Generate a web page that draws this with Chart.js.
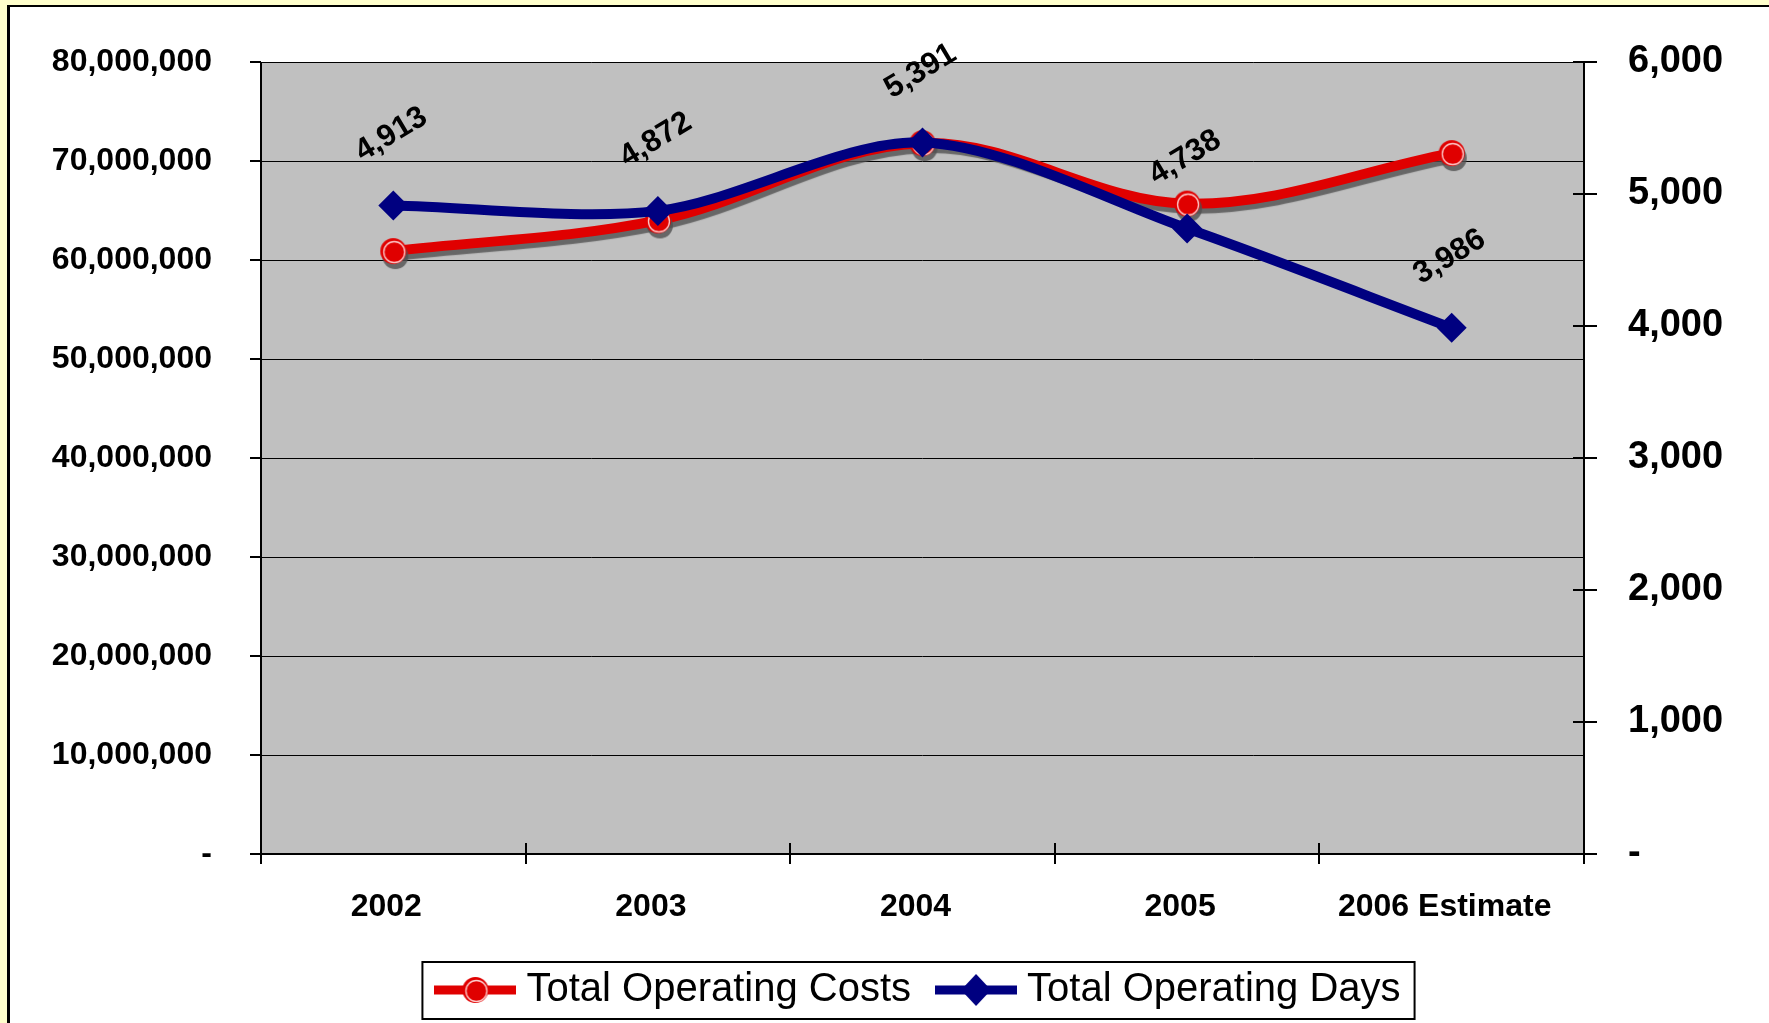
<!DOCTYPE html>
<html>
<head>
<meta charset="utf-8">
<script src="https://cdn.jsdelivr.net/npm/chart.js@4.4.1/dist/chart.umd.min.js"></script>
<style>
    html, body { margin: 0; padding: 0; background: #FFFFCC; overflow: hidden; }
    #frame {
        position: absolute; left: 7px; top: 5px; width: 1800px; height: 1100px;
        background: #fff; border-left: 3px solid #000; border-top: 2px solid #000;
    }
    #chart { position: absolute; left: 0; top: 0; }
</style>
</head>
<body>
<div id="frame"></div>
<canvas id="chart" width="1769" height="1023"></canvas>
<script>
// Operating costs vs operating days

const years = ['2002', '2003', '2004', '2005', '2006 Estimate'];
const operatingCosts = [60900000, 64000000, 71800000, 65700000, 70800000];
const operatingDays = [4913, 4872, 5391, 4738, 3986];

const costAxisMax = 80000000;
const costAxisStep = 10000000;
const daysAxisMax = 6000;
const daysAxisStep = 1000;

const FONT = '"Liberation Sans", Arial, sans-serif';
const RED = '#E00000';
const NAVY = '#000080';

function fmt(v) {
    return v === 0 ? '-' : Number(v).toLocaleString('en-US');
}

// marker pictures (with or without the line through them, for legend)
function makeMarker(kind, withLine) {
    const w = withLine ? 82 : 36;
    const h = 40;
    const c = document.createElement('canvas');
    c.width = w; c.height = h;
    const g = c.getContext('2d');
    const cx = w / 2, cy = h / 2;
    const color = kind === 'circle' ? RED : NAVY;
    if (withLine) {
        g.fillStyle = color;
        g.fillRect(0, cy - 4.5, w, 9);
    }
    g.fillStyle = color;
    if (kind === 'circle') {
        g.beginPath();
        g.arc(cx, cy, 13, 0, Math.PI * 2);
        g.fill();
        g.strokeStyle = 'rgba(255, 215, 215, 0.95)';
        g.lineWidth = 1.3;
        g.beginPath();
        g.arc(cx + 1, cy + 1, 10.5, 0, Math.PI * 2);
        g.stroke();
    } else {
        g.beginPath();
        g.moveTo(cx, cy - 16);
        g.lineTo(cx + 15, cy);
        g.lineTo(cx, cy + 16);
        g.lineTo(cx - 15, cy);
        g.closePath();
        g.fill();
    }
    return c;
}

const redPoint = makeMarker('circle', false);
const legendImages = [makeMarker('circle', true), makeMarker('diamond', true)];

const plotBackground = {
    id: 'plotBackground',
    beforeDraw(chart) {
        const { ctx, chartArea: a } = chart;
        ctx.save();
        ctx.fillStyle = '#C0C0C0';
        ctx.fillRect(a.left, a.top, a.right - a.left, a.bottom - a.top);
        ctx.restore();
    }
};

const redShadow = {
    id: 'redShadow',
    beforeDatasetDraw(chart, args) {
        if (args.index !== 0) return;
        const ctx = chart.ctx;
        ctx.save();
        ctx.shadowColor = 'rgba(80, 80, 80, 0.8)';
        ctx.shadowOffsetX = 2;
        ctx.shadowOffsetY = 5;
        ctx.shadowBlur = 1;
    },
    afterDatasetDraw(chart, args) {
        if (args.index === 0) chart.ctx.restore();
    }
};

const dayLabels = {
    id: 'dayLabels',
    afterDatasetsDraw(chart) {
        const ctx = chart.ctx;
        const meta = chart.getDatasetMeta(1);
        ctx.save();
        ctx.font = 'bold 31px ' + FONT;
        ctx.fillStyle = '#000';
        ctx.textAlign = 'center';
        ctx.textBaseline = 'middle';
        meta.data.forEach((pt, i) => {
            ctx.save();
            ctx.translate(pt.x - 2, pt.y - 71);
            ctx.rotate(-31 * Math.PI / 180);
            ctx.fillText(fmt(operatingDays[i]), 0, 0);
            ctx.restore();
        });
        ctx.restore();
    }
};

const axisFrame = {
    id: 'axisFrame',
    afterDraw(chart) {
        const { ctx, chartArea: a, scales } = chart;
        ctx.save();
        ctx.strokeStyle = '#000';
        ctx.lineWidth = 2;
        ctx.beginPath();
        // axis lines
        ctx.moveTo(a.left, a.top); ctx.lineTo(a.left, a.bottom);
        ctx.moveTo(a.right, a.top); ctx.lineTo(a.right, a.bottom);
        ctx.moveTo(a.left, a.bottom); ctx.lineTo(a.right, a.bottom);
        // left ticks
        scales.y.ticks.forEach(t => {
            const y = Math.round(scales.y.getPixelForValue(t.value));
            ctx.moveTo(a.left - 11, y); ctx.lineTo(a.left, y);
        });
        // right ticks cross the axis
        scales.y1.ticks.forEach(t => {
            const y = Math.round(scales.y1.getPixelForValue(t.value));
            ctx.moveTo(a.right - 11, y); ctx.lineTo(a.right + 13, y);
        });
        // category ticks
        for (let i = 0; i <= years.length; i++) {
            const x = Math.round(scales.x.getPixelForValue(i - 0.5));
            ctx.moveTo(x, a.bottom - 11); ctx.lineTo(x, a.bottom + 10);
        }
        ctx.stroke();

        // legend box
        const hb = chart.legend.legendHitBoxes;
        if (hb && hb.length) {
            const first = hb[0], last = hb[hb.length - 1];
            const left = first.left - 22;
            const right = last.left + last.width + 14;
            const top = first.top - 8;
            const bottom = first.top + 49;
            ctx.lineWidth = 2;
            ctx.strokeRect(left, top, right - left, bottom - top);
        }
        ctx.restore();
    }
};

const ctx = document.getElementById('chart');

new Chart(ctx, {
    type: 'line',
    data: {
        labels: years,
        datasets: [{
            label: 'Total Operating Costs',
            data: operatingCosts,
            yAxisID: 'y',
            borderColor: RED,
            backgroundColor: RED,
            borderWidth: 10,
            tension: 0.35,
            pointStyle: redPoint,
            order: 2
        }, {
            label: 'Total Operating Days',
            data: operatingDays,
            yAxisID: 'y1',
            borderColor: NAVY,
            backgroundColor: NAVY,
            borderWidth: 10,
            tension: 0.3,
            pointStyle: 'rectRot',
            pointRadius: 15,
            pointBorderWidth: 0,
            pointBackgroundColor: NAVY,
            order: 1
        }]
    },
    options: {
        responsive: false,
        animation: false,
        events: [],
        layout: {
            padding: { top: 62, left: 0, right: 0, bottom: 3 }
        },
        plugins: {
            tooltip: { enabled: false },
            legend: {
                display: true,
                position: 'bottom',
                fullSize: false,
                labels: {
                    color: '#000',
                    font: { family: FONT, size: 40 },
                    usePointStyle: true,
                    pointStyleWidth: 62,
                    padding: 34,
                    sort: (a, b) => a.datasetIndex - b.datasetIndex,
                    generateLabels(chart) {
                        const items = Chart.defaults.plugins.legend.labels.generateLabels(chart);
                        items.forEach(it => { it.pointStyle = legendImages[it.datasetIndex]; });
                        return items;
                    }
                }
            }
        },
        scales: {
            x: {
                offset: true,
                grid: { display: false, offset: true },
                border: { display: false },
                ticks: {
                    color: '#000',
                    font: { family: FONT, size: 32, weight: 'bold' },
                    padding: 26,
                    labelOffset: -7,
                    maxRotation: 0,
                    autoSkip: false
                },
                afterFit(scale) { scale.height = 82; }
            },
            y: {
                position: 'left',
                min: 0,
                max: costAxisMax,
                // invisible tick marks keep the label gap (drawn ticks come from axisFrame)
                grid: { color: '#000', lineWidth: 1, drawTicks: true, tickLength: 45, tickColor: 'rgba(0,0,0,0)' },
                border: { display: false },
                ticks: {
                    stepSize: costAxisStep,
                    color: '#000',
                    font: { family: FONT, size: 32, weight: 'bold' },
                    padding: 4,
                    callback: v => fmt(v)
                },
                afterFit(scale) { scale.width = 261; }
            },
            y1: {
                position: 'right',
                min: 0,
                max: daysAxisMax,
                grid: { display: true, drawOnChartArea: false, drawTicks: true, tickLength: 40, tickColor: 'rgba(0,0,0,0)' },
                border: { display: false },
                ticks: {
                    stepSize: daysAxisStep,
                    color: '#000',
                    font: { family: FONT, size: 38, weight: 'bold' },
                    padding: 4,
                    callback: v => fmt(v)
                },
                afterFit(scale) { scale.width = 185; }
            }
        }
    },
    plugins: [plotBackground, redShadow, dayLabels, axisFrame]
});
</script>
</body>
</html>
